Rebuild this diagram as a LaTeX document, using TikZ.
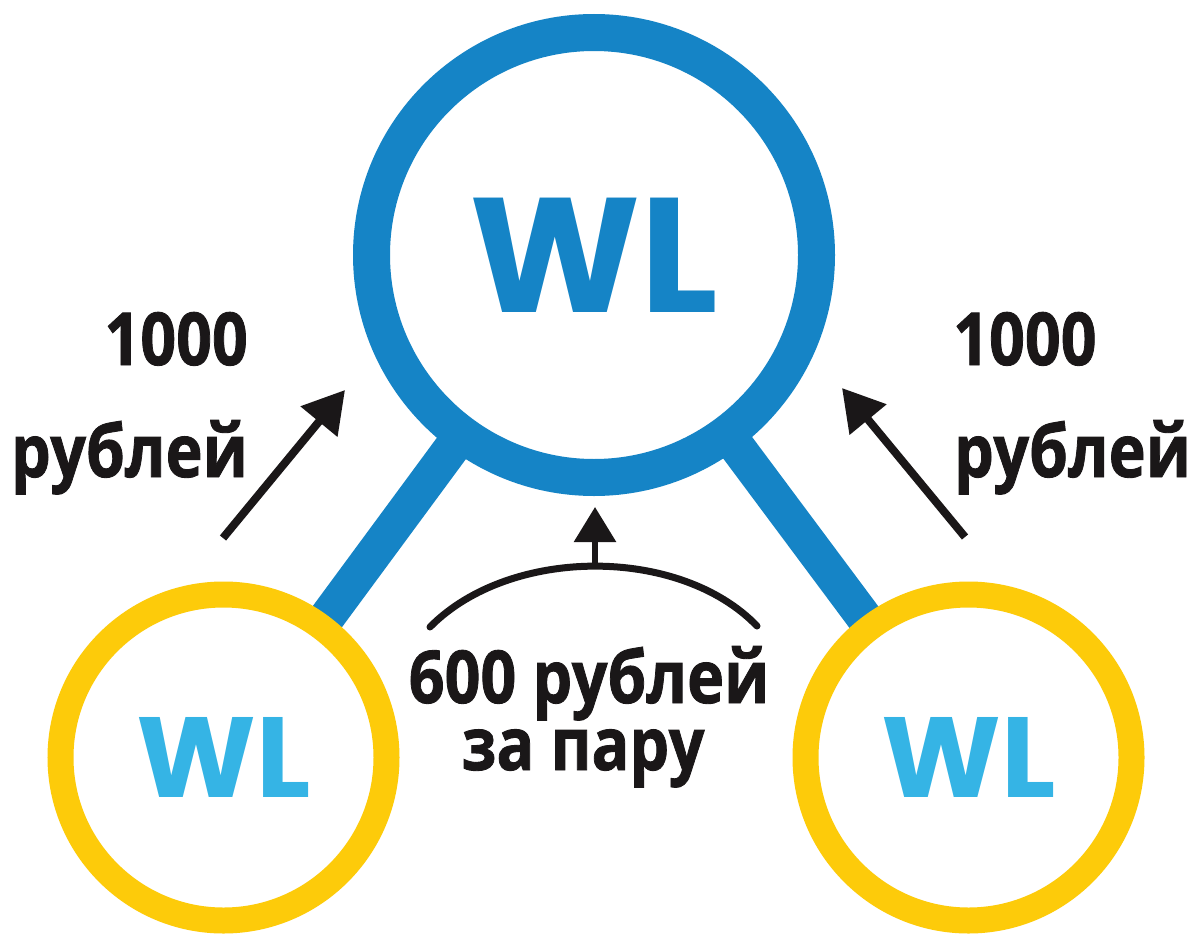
\documentclass[tikz,border=0pt]{standalone}
\usepackage{fontspec}
\setmainfont{Open Sans}[BoldFeatures={FakeBold=1.2}]
\newfontfamily\wlfont{Poppins}
\usetikzlibrary{arrows.meta,backgrounds}
\definecolor{bigblue}{HTML}{1584C6}
\definecolor{lightblue}{HTML}{35B4E5}
\definecolor{ringyellow}{HTML}{FDCB0A}
\definecolor{ink}{HTML}{1A1718}
\newcommand{\squeeze}[1]{\scalebox{0.86}[1]{#1}}
\tikzset{
  bigring/.style={circle,draw=bigblue,fill=white,line width=37pt,minimum size=445pt,inner sep=0pt,
    text=bigblue,font=\wlfont\bfseries\fontsize{163}{163}\selectfont},
  smallring/.style={circle,draw=ringyellow,fill=white,line width=26pt,minimum size=326pt,inner sep=0pt,
    text=lightblue,font=\wlfont\bfseries\fontsize{114}{114}\selectfont},
  stemline/.style={draw=bigblue,line width=36pt},
  money/.style={text=ink,font=\bfseries\fontsize{73}{73}\selectfont,inner sep=0pt},
  flowarrow/.style={draw=ink,line width=8pt,-{Triangle[length=41pt,width=46pt]}},
  pairarrow/.style={draw=ink,line width=6pt,-{Triangle[length=35pt,width=41pt]}},
  pairarc/.style={draw=ink,line width=7pt,line cap=round},
}
\begin{document}
\begin{tikzpicture}[x=1pt,y=-1pt]
\useasboundingbox (0,0) rectangle (1190,934);
\node[bigring] (big) at (594,255) {WL};
\node[smallring] (sl) at (223.5,757.5) {WL};
\node[smallring] (sr) at (968.5,757.5) {WL};
\begin{scope}[on background layer]
  \fill[white] (0,0) rectangle (1190,934);
  \draw[stemline] (big.center) -- (sl.center);
  \draw[stemline] (big.center) -- (sr.center);
\end{scope}
% side arrows
\coordinate (la0) at (223,538);
\coordinate (la1) at (345,390);
\coordinate (ra0) at (965,537);
\coordinate (ra1) at (842,388);
\draw[flowarrow] (la0) -- (la1);
\draw[flowarrow] (ra0) -- (ra1);
% central arc and arrow
\coordinate (arcL) at (430,627);
\coordinate (arcR) at (757,626);
\coordinate (arcTop) at (595,566);
\coordinate (arcTip) at (595,507);
\draw[pairarc] (arcL) .. controls (510,546) and (680,546) .. (arcR);
\draw[pairarrow] (arcTop) -- (arcTip);
% labels
\node[money,anchor=base east] (l1) at (248,365) {\squeeze{1000}};
\node[money,anchor=base east] (l2) at (248,477) {\squeeze{рублей}};
\node[money,anchor=base west] (r1) at (953,365) {\squeeze{1000}};
\node[money,anchor=base west] (r2) at (954,477) {\squeeze{рублей}};
\node[money,anchor=base] (c1) at (589,703) {\squeeze{600 рублей}};
\node[money,anchor=base] (c2) at (583,770) {\squeeze{за пару}};
\end{tikzpicture}
\end{document}
